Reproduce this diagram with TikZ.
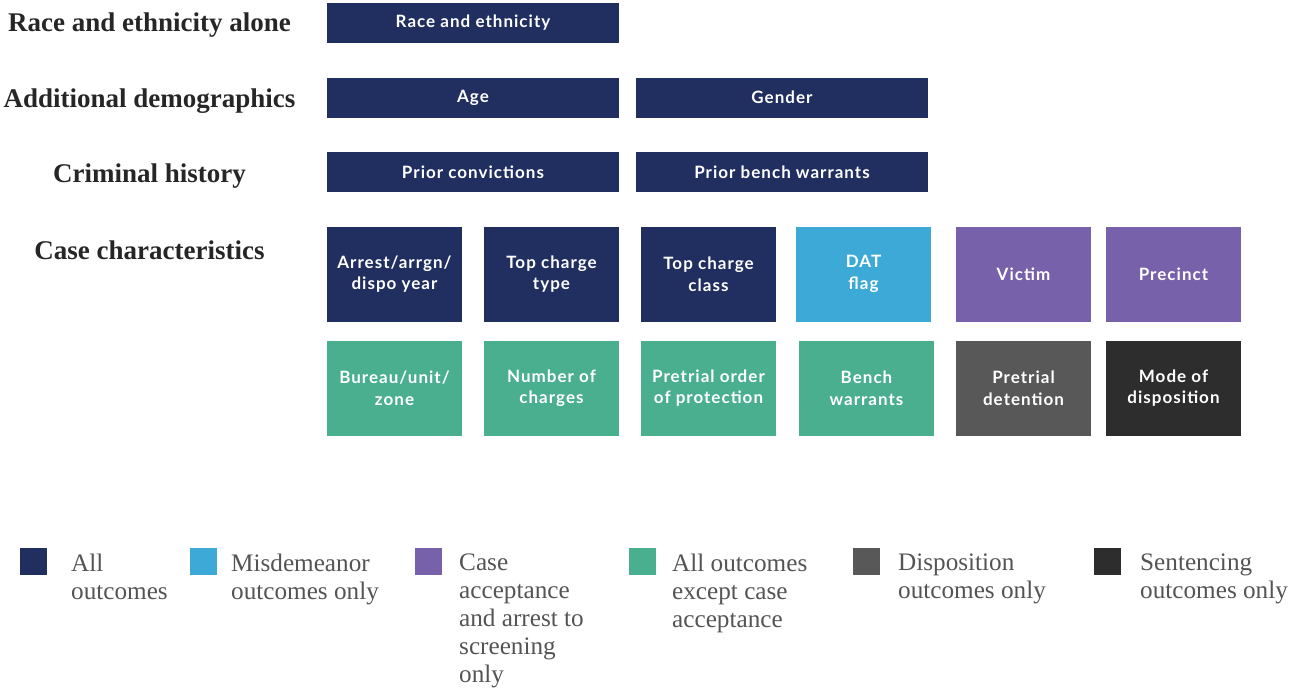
\documentclass[tikz,border=0pt]{standalone}
\usepackage{fontspec}
\setmainfont{Liberation Serif}
\newfontfamily\boxfont[LetterSpace=6]{Lato}
\usetikzlibrary{positioning}

\definecolor{allout}{HTML}{202E60}
\definecolor{misd}{HTML}{3DA9D6}
\definecolor{caseacc}{HTML}{7661AA}
\definecolor{exacc}{HTML}{49AF8F}
\definecolor{dispo}{HTML}{585858}
\definecolor{sent}{HTML}{2D2D2D}

\begin{document}
\begin{tikzpicture}[x=1pt, y=-1pt,
    grp/.style={font=\bfseries\fontsize{27}{30}\selectfont, text=black!85},
    wide/.style={minimum width=292pt, minimum height=40pt, inner sep=2pt, text=white, font=\boxfont\bfseries\fontsize{17}{21.5}\selectfont, align=center},
    var/.style={minimum width=135pt, minimum height=95pt, inner sep=2pt, text=white, font=\boxfont\bfseries\fontsize{17}{21.5}\selectfont, align=center},
    key/.style={minimum size=27pt, inner sep=0pt},
    keytxt/.style={anchor=north west, inner sep=0pt, align=left, text=black!67, font=\fontsize{25.2}{28}\selectfont},
  ]
  \useasboundingbox (0,0) rectangle (1291,688);

  % Group labels
  \node[grp] (g_race)  at (149.5,25)  {Race and ethnicity alone};
  \node[grp] (g_demo)  at (149.5,101) {Additional demographics};
  \node[grp] (g_crim)  at (149.5,176) {Criminal history};
  \node[grp] (g_case)  at (149.5,250) {Case characteristics};

  % Demographics and history
  \node[wide, fill=allout] (race)     at (473,23)   {Race and ethnicity};
  \node[wide, fill=allout] (age)      at (473,97.5) {Age};
  \node[wide, fill=allout] (gender)   at (782,97.5) {Gender};
  \node[wide, fill=allout] (priorconv) at (473,172) {Prior convictions};
  \node[wide, fill=allout] (priorbw)  at (782,172)  {Prior bench warrants};

  % Case characteristics, first row
  \node[var, fill=allout]  (year)     at (394.5,274)  {Arrest/arrgn/\\dispo year};
  \node[var, fill=allout]  (chtype)   at (551.5,274)  {Top charge\\type};
  \node[var, fill=allout]  (chclass)  at (708.5,274)  {Top charge\\class};
  \node[var, fill=misd]    (dat)      at (863.5,274)  {DAT\\flag};
  \node[var, fill=caseacc] (victim)   at (1023.5,274) {Victim};
  \node[var, fill=caseacc] (precinct) at (1173.5,274) {Precinct};

  % Case characteristics, second row
  \node[var, fill=exacc]   (bureau)   at (394.5,388)  {Bureau/unit/\\zone};
  \node[var, fill=exacc]   (ncharges) at (551.5,388)  {Number of\\charges};
  \node[var, fill=exacc]   (protect)  at (708.5,388)  {Pretrial order\\of protection};
  \node[var, fill=exacc]   (benchw)   at (866.5,388)  {Bench\\warrants};
  \node[var, fill=dispo]   (detain)   at (1023.5,388) {Pretrial\\detention};
  \node[var, fill=sent]    (mode)     at (1173.5,388) {Mode of\\disposition};

  % Legend
  \node[key, fill=allout]  (k_all)  at (33.5,561.5)   {};
  \node[key, fill=misd]    (k_misd) at (203.5,561.5)  {};
  \node[key, fill=caseacc] (k_case) at (428.5,561.5)  {};
  \node[key, fill=exacc]   (k_exc)  at (642.5,561.5)  {};
  \node[key, fill=dispo]   (k_disp) at (866.5,561.5)  {};
  \node[key, fill=sent]    (k_sent) at (1107.5,561.5) {};

  \node[keytxt] (t_all)  at (71,554)   {All\\outcomes};
  \node[keytxt] (t_misd) at (231,554)  {Misdemeanor\\outcomes only};
  \node[keytxt] (t_case) at (459,554)  {Case\\acceptance\\and arrest to\\screening\\only};
  \node[keytxt] (t_exc)  at (672,554)  {All outcomes\\except case\\acceptance};
  \node[keytxt] (t_disp) at (898,554)  {Disposition\\outcomes only};
  \node[keytxt] (t_sent) at (1140,554) {Sentencing\\outcomes only};
\end{tikzpicture}
\end{document}
